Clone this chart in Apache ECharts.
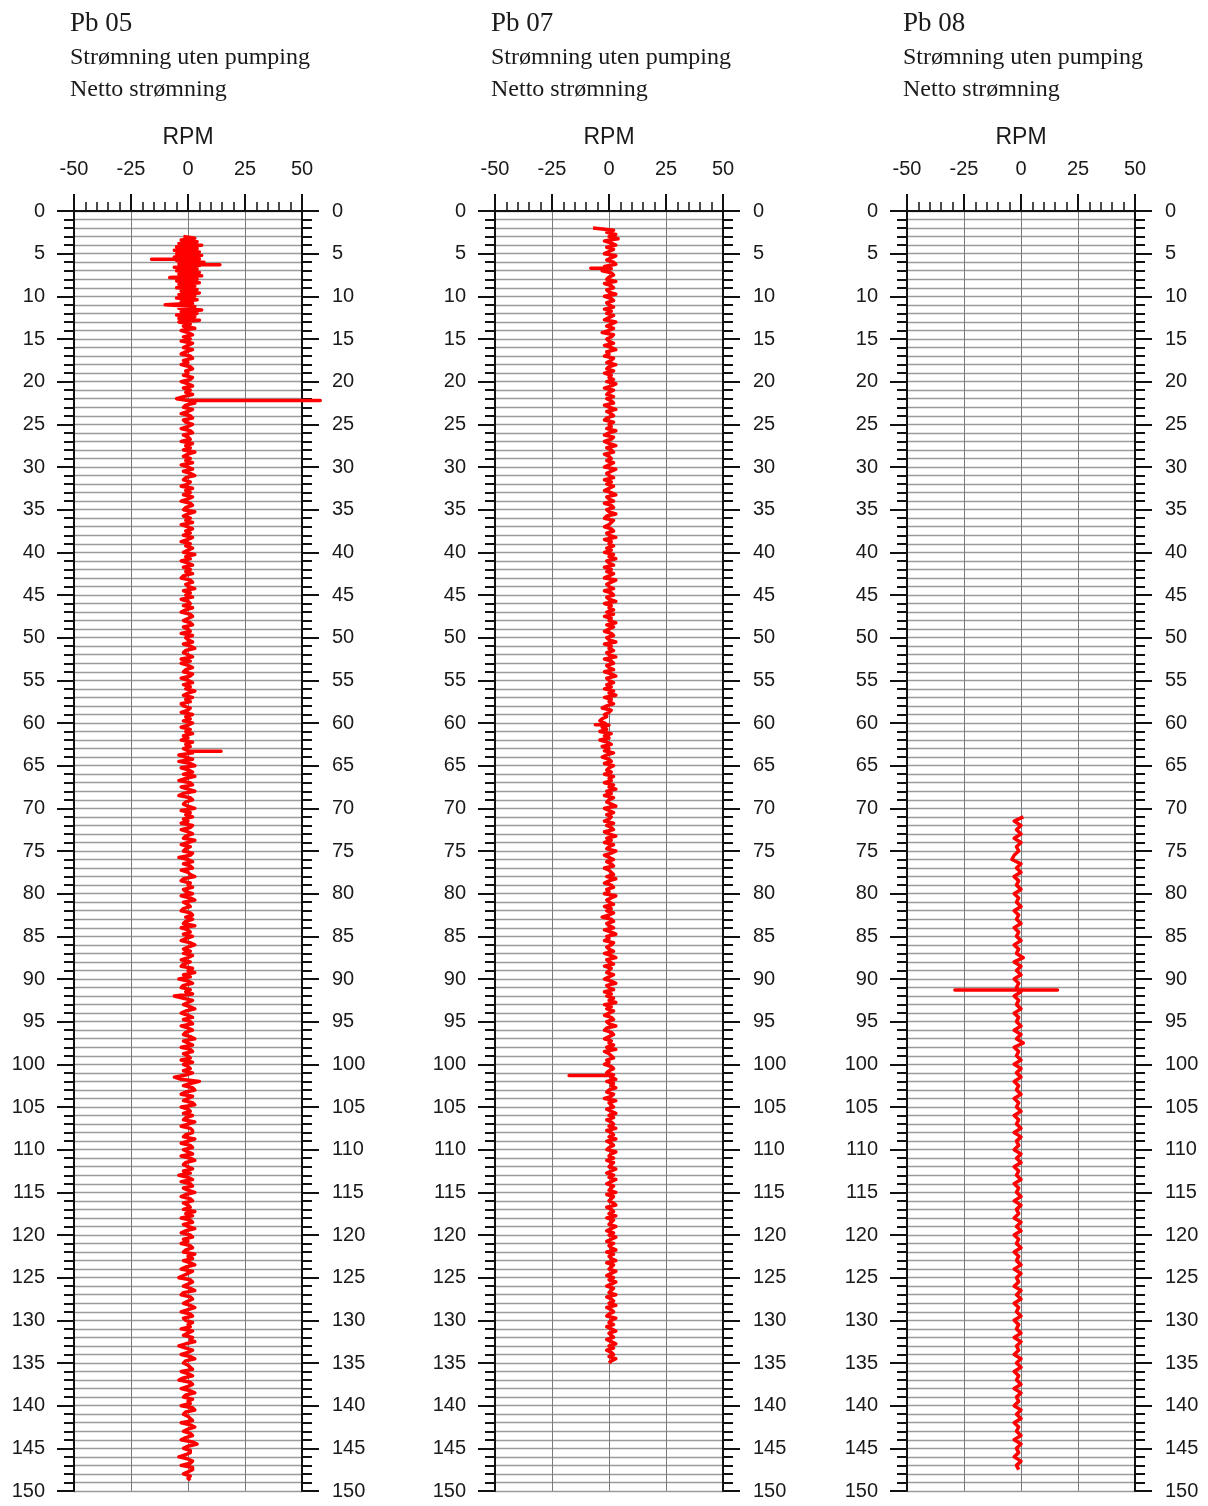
<!DOCTYPE html>
<html>
<head>
<meta charset="utf-8">
<script src="https://cdn.jsdelivr.net/npm/echarts@6/dist/echarts.min.js"></script>
<style>
html,body{margin:0;padding:0;background:#fff;}
#chart{width:1208px;height:1506px;}
</style>
</head>
<body>
<div id="chart"></div>
<script>
// ---- Data ----
const panelNames = ['Pb 05', 'Pb 07', 'Pb 08'];
const subtitleLines = ['Strømning uten pumping', 'Netto strømning'];
const xTickLabels = ['-50', '-25', '0', '25', '50'];

// Pb 05: dense upper section (step 0.2 m) and main log (step 0.25 m)
const pb05TopStart = 3.0, pb05TopStep = 0.2;
const pb05TopRpm = [
  -2, 3, -3, 4, -4, 6, -5, 4, -6, 5,
  -5, 6, -6, 5, -5, 7, -4, 5, -6, 4,
  -5, 5, -4, 6, -8, 4, -5, 5, -4, 3,
  -5, 4, -3, 5, -4, 3, -5, 4, -3, 2,
  -10, 3, -4, 6, -3, 4, -5, 3, -4, 5
];
const pb05Start = 13.0, pb05Step = 0.25;
const pb05Rpm = [
  -4, 1, -2, 3, -3, 0, 2, -2, 1, -3, 2, 0, -2, 2, -1, -3, 1, 2, -2, 0,
  -3, 1, 2, -1, 0, -2, 2, 1, -3, 0, 2, -2, 1, -1, 2, -2, -5, 1, 3, -1,
  -2, 2, 0, -3, 1, 2, -2, -1, 2, 0, -3, 1, 2, -2, 0, 1, -3, 2, -1, 1,
  -2, 3, 0, -2, 1, -1, 2, -3, 0, 2, -2, 1, 3, -1, -2, 1, 0, -3, 2, -1,
  1, -2, 2, 0, -3, 1, 2, -1, -2, 3, 0, -2, 1, -1, 2, -3, 0, 2, -1, 1,
  -2, 2, 0, -3, 1, -1, 2, 0, -2, 3, -1, 1, -3, 0, 2, -2, 1, -1, 2, -2,
  -3, 1, 2, -1, 0, 3, -2, 1, -1, 2, -3, 0, 1, -2, 2, -1, -3, 1, 2, 0,
  -2, 1, 2, -2, 0, 1, -3, 2, -1, 0, 2, -2, 1, 3, -1, -2, 0, 2, -3, 1,
  -3, 0, 2, -1, -2, 2, 1, -3, 0, 2, -2, 1, -1, 3, 0, -2, 2, -1, 1, -3,
  -2, 1, 0, -3, 2, -1, 1, -2, 2, 0, -3, 1, -1, 2, -2, 0, -3, 2, -1, 1,
  -2, 0, 2, -4, -1, 2, -4, 1, 3, -3, 0, 2, -2, 3, -1, -4, 1, 2, -3, 0,
  3, -2, -4, 1, 2, -1, -2, 0, 3, -3, 1, -1, 2, -2, 0, -3, 2, 1, -3, 0,
  2, -1, -2, 3, 0, -3, 1, -1, -2, 2, 1, -4, 0, 2, -2, 1, 2, -3, 0, 1,
  3, -2, -3, 1, 0, 2, -2, -1, 2, -3, 1, 3, -2, 0, 1, -2, -3, 1, 2, -1,
  2, -1, -2, 3, -3, 0, 1, -2, 2, -1, -3, 1, 3, 0, -2, 1, -2, 2, 0, -3,
  1, -2, -3, 2, 0, 3, -2, 1, -4, 0, 2, -2, -3, 1, -1, 2, -6, -2, 2, 0,
  -2, 1, 3, -1, -3, 0, 2, -2, 1, 2, -3, 0, 2, -1, -2, 1, 3, -2, 0, 2,
  -3, 1, 2, -2, 0, 1, -3, 2, -2, 0, 1, -2, 2, -1, -6, -3, 5, 1, -2, 2,
  3, -1, -3, 2, 0, -2, 2, 3, -3, 0, 1, -2, 2, -1, -2, 3, 0, -3, 1, 2,
  2, -1, -2, 3, 0, -3, 1, 2, -2, 0, 2, -3, 1, 3, -1, -2, 0, 2, -2, 1,
  -4, 0, 2, -3, 1, 2, -2, 0, 3, -1, -3, 1, 2, -2, 0, 1, -2, 3, -1, 2,
  -3, 1, 2, -2, 0, 3, -1, -3, 1, 2, -2, 0, -3, 1, 2, -1, -2, 3, 0, 2,
  -2, 1, 3, -1, -3, 2, 0, -2, -4, 1, 2, 0, -2, 1, 3, -2, -3, 1, 2, 0,
  -2, 1, 3, 0, -3, 1, 2, -2, -1, 2, 0, 1, -3, 2, 0, -2, 2, 1, 3, -1,
  -4, -1, 2, 0, -3, 1, 3, -1, -2, 0, 1, 2, -3, 0, 2, -2, -4, 1, 2, 0,
  -3, 1, 3, -1, -2, 2, 0, 1, -3, 2, 3, -1, -2, 0, 1, 2, -3, 1, 3, 0,
  -2, 1, 2, -1, -3, 2, 4, 0, -2, 1, 1, -1, -4, 0, 2, 1, -3, 2, 2, 0,
  -2, 1, 0, 1
];
// horizontal spikes: depth, trace value they leave from, tip value
const pb05SpikeDepth = [5.65, 6.3, 22.2, 63.3];
const pb05SpikeFrom = [0, 1, 0, 1];
const pb05SpikeTip = [-16, 14, 58, 14.5];

const pb07Start = 2.0, pb07Step = 0.25;
const pb07Rpm = [
  -7, 2, -1, 3, 0, 4, -2, 1, 3, -1, 2, 0, -2, 3, 1, -1, 2, 3, -2, 1,
  -3, 1, 2, 0, -1, 3, -2, 1, 2, -1, 0, 3, -2, 1, 2, -1, 0, 2, -2, 1,
  -1, 2, 0, -2, 3, 1, -1, 2, 0, -3, 2, 1, -1, 0, 2, -2, 1, 3, -1, 0,
  -2, 2, 1, -1, 3, 0, -1, 2, -2, 1, 0, 2, -1, 3, 1, -2, 2, 0, -1, 2,
  -1, 1, 2, -2, 0, 3, -1, 1, 2, -1, -2, 2, 0, 1, -1, 3, 0, -2, 2, 1,
  -2, 0, 3, -1, 1, 2, -2, 0, 1, -1, 2, 0, -2, 3, 1, -1, 0, 2, -2, 1,
  -1, 2, 0, -2, 1, 3, -1, 0, 2, -2, 1, 2, -1, 0, 3, -1, -2, 2, 1, 0,
  -2, 1, 2, -1, 0, 3, -2, 1, 0, 2, -1, 1, -2, 2, 0, 3, -1, 0, 2, -2,
  1, -1, 2, 0, -2, 3, 1, -1, 0, 2, -2, 1, 2, -1, 0, 3, -2, 1, 0, 2,
  -1, 2, -2, 1, 0, 3, -1, 2, 0, -2, 1, 2, -1, 0, 3, -2, 1, 0, 2, -1,
  0, 3, -2, 1, 2, -1, 0, 2, -2, 1, 3, -1, 0, 2, -1, 1, -2, 2, 0, 3,
  -2, 1, 0, 2, -1, -3, 1, 0, -2, -1, -3, -4, -2, 0, -3, -1, -4, 1, -2, 0,
  -4, -1, 1, -3, 0, -2, 2, -1, -3, 0, 1, -2, 2, 0, -1, 1, -2, 2, 0, 1,
  -2, 2, 0, 3, -1, 1, -2, 2, 0, -1, 1, 3, -2, 0, 2, -1, 1, 0, -2, 2,
  -1, 1, 2, -2, 0, 3, -1, 1, -2, 2, 0, -1, 3, 1, -2, 0, 2, -1, 1, 2,
  -2, 0, 1, 2, -1, 3, 0, -2, 1, 2, -1, 0, -2, 3, 1, -1, 0, 2, -2, 1,
  -1, 2, 0, -3, 1, 2, -1, 0, 2, -2, 1, 3, -1, 0, -2, 2, 1, -1, 0, 2,
  -2, 1, 3, -1, 0, 2, -2, 1, 0, -1, 2, 0, -2, 1, 3, -1, 0, 2, -2, 1,
  -1, 2, 0, 3, -2, 1, -1, 2, 0, -2, 1, 2, -1, 0, 3, -1, -2, 1, 2, 0,
  -2, 1, 0, 2, -1, 3, -2, 0, 1, 2, -1, 0, -2, 1, 2, 0, -1, 2, 1, 3,
  -1, 2, 1, 3, 0, -1, 2, 1, -2, 3, 0, 1, 2, -1, 1, 3, 0, 2, -1, 1,
  2, 0, 3, -1, 1, 2, 0, 3, -1, 1, 2, 0, -1, 3, 1, 0, 2, -1, 2, 1,
  0, 3, 1, -1, 2, 0, 3, 1, -1, 2, 1, 0, 3, -1, 2, 1, 0, 2, 3, -1,
  1, 2, 0, 3, -1, 2, 1, 0, 3, 1, -1, 2, 0, 3, 1, -1, 2, 0, 1, 3,
  -1, 2, 0, 1, 3, -1, 2, 1, 0, 3, 1, -1, 2, 0, 3, 1, -1, 2, 1, 0,
  3, -1, 1, 2, 0, 3, -1, 1, 2, 0, -1, 3, 1, 0, 2, -1, 1, 3, 0, 1,
  2, -1, 1, 3, 0, 2, -1, 1, 2, 0, 3, 1, 0
];
const pb07SpikeDepth = [6.7, 60.2, 101.3];
const pb07SpikeFrom = [0, -1, 0];
const pb07SpikeTip = [-8, -6, -17.5];

const pb08Start = 71.0, pb08Step = 0.5;
const pb08Rpm = [
  1, -3, 0, -2, 0, -3, 0, -2, -1, -3,
  -4, 0, -2, 0, -3, -1, -2, 0, -3, -1,
  -2, 0, -3, -1, -2, 0, -3, -1, -2, 0,
  -3, -1, -2, 1, -3, 0, -2, 0, -3, -1,
  -2, 0, -3, -1, -2, 0, -3, -1, -2, 0,
  -3, 0, -2, 1, -3, -1, -2, 0, -3, 0,
  -2, 0, -3, -1, -2, 0, -3, -1, -2, 0,
  -3, -1, -2, 0, -3, 0, -2, -1, -3, 0,
  -2, 0, -3, -1, -2, 0, -3, -1, -2, 0,
  -3, 0, -2, -1, -3, 0, -2, 0, -3, -1,
  -2, 0, -3, -1, -2, 0, -3, 0, -2, -1,
  -3, 0, -2, 0, -3, -1, -2, 0, -3, -1,
  -2, 0, -3, 0, -2, -1, -3, 0, -2, 0,
  -3, -1, -2, 0, -3, 0, -2, -1, -3, 0,
  -2, 0, -3, -1, -2, 0, -3, 0, -2, -1,
  -3, 0, -2, -1
];
const pb08SpikeDepth = [91.3, 91.3];
const pb08SpikeFrom = [-1, -1];
const pb08SpikeTip = [-29, 16];

// ---- Build series points ([rpm, depth]) ----
function sampled(start, step, vals) {
  return vals.map((v, i) => [v, +(start + i * step).toFixed(3)]);
}
function merge(parts, sDepth, sFrom, sTip) {
  const base = [].concat(...parts).sort((a, b) => a[1] - b[1]);
  const out = [];
  let k = 0;
  const order = sDepth.map((d, j) => j).sort((a, b) => sDepth[a] - sDepth[b]);
  base.forEach(p => {
    while (k < order.length && sDepth[order[k]] < p[1]) {
      const j = order[k++];
      out.push([sFrom[j], sDepth[j]], [sTip[j], sDepth[j]], [sFrom[j], sDepth[j]]);
    }
    out.push(p);
  });
  while (k < order.length) {
    const j = order[k++];
    out.push([sFrom[j], sDepth[j]], [sTip[j], sDepth[j]], [sFrom[j], sDepth[j]]);
  }
  return out;
}
const seriesData = [
  merge([sampled(pb05TopStart, pb05TopStep, pb05TopRpm), sampled(pb05Start, pb05Step, pb05Rpm)],
        pb05SpikeDepth, pb05SpikeFrom, pb05SpikeTip),
  merge([sampled(pb07Start, pb07Step, pb07Rpm)], pb07SpikeDepth, pb07SpikeFrom, pb07SpikeTip),
  merge([sampled(pb08Start, pb08Step, pb08Rpm)], pb08SpikeDepth, pb08SpikeFrom, pb08SpikeTip)
];

// ---- Layout ----
const gridLefts = [74, 495, 907];
const gridWidth = 228;
const gridTop = 211;
const gridHeight = 1280;
const overlayExtra = 0.2; // overlay grid extends 20% each side so out-of-range spikes stay visible

const labelColor = '#1a1a1a';
const sansFont = 'Liberation Sans, Arial, sans-serif';
const serifFont = 'Liberation Serif, Times New Roman, serif';

const grids = [], xAxes = [], yAxes = [], series = [], titles = [];
gridLefts.forEach((left, i) => {
  grids.push({ left: left, top: gridTop, width: gridWidth, height: gridHeight });
  xAxes.push({
    type: 'value', gridIndex: i, position: 'top', min: -50, max: 50, interval: 25,
    name: 'RPM', nameLocation: 'middle', nameGap: 62,
    nameTextStyle: { fontFamily: sansFont, fontSize: 23, color: labelColor },
    axisLine: { show: true, onZero: false, lineStyle: { color: '#111', width: 2 } },
    axisTick: { show: true, inside: false, length: 17, lineStyle: { color: '#111', width: 2 } },
    minorTick: { show: true, splitNumber: 5, length: 9, lineStyle: { color: '#111', width: 1.5 } },
    axisLabel: { margin: 32, fontFamily: sansFont, fontSize: 20, color: labelColor,
      formatter: v => xTickLabels[Math.round((v + 50) / 25)] },
    splitLine: { show: true, lineStyle: { color: '#7a7a7a', width: 1 } }
  });
  const yCommon = {
    type: 'value', gridIndex: i, min: 0, max: 150, interval: 5, inverse: true,
    axisLine: { show: true, onZero: false, lineStyle: { color: '#111', width: 2 } },
    axisTick: { show: true, inside: false, length: 17, lineStyle: { color: '#111', width: 2 } },
    minorTick: { show: true, splitNumber: 5, length: 10, lineStyle: { color: '#111', width: 2 } }
  };
  yAxes.push(Object.assign({}, yCommon, {
    position: 'left',
    axisLabel: { margin: 29, fontFamily: sansFont, fontSize: 20, color: labelColor },
    splitLine: { show: true, lineStyle: { color: '#9a9a9a', width: 1.4 } },
    minorSplitLine: { show: true, lineStyle: { color: '#9a9a9a', width: 1.4 } }
  }));
  yAxes.push(Object.assign({}, yCommon, {
    position: 'right',
    axisLabel: { margin: 30, fontFamily: sansFont, fontSize: 20, color: labelColor },
    splitLine: { show: false }, minorSplitLine: { show: false }
  }));
  titles.push({ text: panelNames[i], left: left - 4, top: 10, padding: 0,
    textStyle: { fontFamily: serifFont, fontSize: 27, fontWeight: 'normal', color: labelColor } });
  titles.push({ text: subtitleLines.join('\n'), left: left - 4, top: 42, padding: 0,
    textStyle: { fontFamily: serifFont, fontSize: 24, fontWeight: 'normal', color: labelColor, lineHeight: 32 } });
});

// Overlay grids (hidden axes, same scale) carrying the red logs
gridLefts.forEach((left, i) => {
  const gi = gridLefts.length + i;
  grids.push({ left: left - gridWidth * overlayExtra, top: gridTop,
    width: gridWidth * (1 + 2 * overlayExtra), height: gridHeight });
  xAxes.push({ type: 'value', gridIndex: gi, min: -50 - 100 * overlayExtra, max: 50 + 100 * overlayExtra,
    show: false, splitLine: { show: false } });
  yAxes.push({ type: 'value', gridIndex: gi, min: 0, max: 150, inverse: true,
    show: false, splitLine: { show: false } });
  series.push({
    type: 'line', xAxisIndex: gi, yAxisIndex: gridLefts.length * 2 + i, data: seriesData[i],
    showSymbol: false, clip: false, animation: false, z: 5,
    lineStyle: { color: '#ff0000', width: 3.5, join: 'round' }
  });
});

const chart = echarts.init(document.getElementById('chart'), null, { renderer: 'canvas' });
chart.setOption({
  animation: false,
  backgroundColor: '#fff',
  title: titles,
  grid: grids,
  xAxis: xAxes,
  yAxis: yAxes,
  series: series
});
</script>
</body>
</html>
